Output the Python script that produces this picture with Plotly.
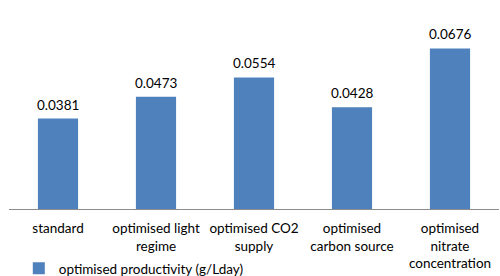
import plotly.graph_objects as go

categories = ["standard", "optimised light<br>regime", "optimised CO2<br>supply",
              "optimised<br>carbon source", "optimised<br>nitrate<br>concentration"]
values = [0.0381, 0.0473, 0.0554, 0.0428, 0.0676]
series_name = "optimised productivity (g/Lday)"

FONT = "Lato"
fig = go.Figure()
fig.add_trace(go.Bar(x=categories, y=values, name=series_name,
                     marker=dict(color="#4F81BD", line=dict(width=0)),
                     showlegend=True))
for c, v in zip(categories, values):
    fig.add_annotation(x=c, y=v, text=f"{v:.4f}", showarrow=False,
                       yanchor="bottom", yshift=4,
                       font=dict(family=FONT, size=13.5, color="#000000"))

fig.update_layout(
    width=500, height=276,
    margin=dict(l=9, r=1, t=19, b=67, autoexpand=False),
    paper_bgcolor="white", plot_bgcolor="white",
    bargap=0.59,
    font=dict(family=FONT, size=13.5, color="#000000"),
    xaxis=dict(showline=True, linecolor="#8c8c8c", linewidth=1, ticks="",
               tickfont=dict(family=FONT, size=13.5), showgrid=False,
               automargin=False, ticklabelstandoff=7),
    yaxis=dict(range=[0, 0.08], visible=False, showgrid=False, zeroline=False,
               automargin=False),
    legend=dict(orientation="h", x=0.02, xanchor="left", y=-0.232, yanchor="top",
                font=dict(family=FONT, size=13.5), itemwidth=30,
                bgcolor="rgba(0,0,0,0)"),
)
fig.write_html("out.html", config={"displayModeBar": False},
               post_script="document.body.style.margin='0';")
